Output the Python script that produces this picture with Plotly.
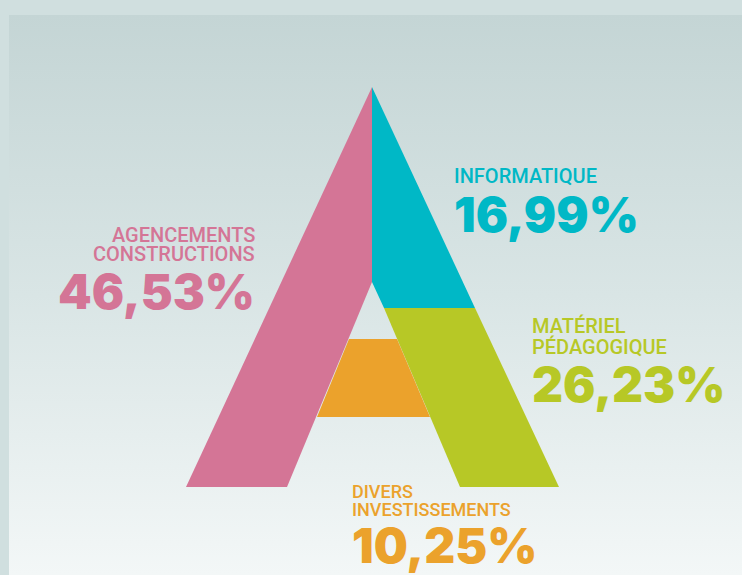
""" Budget split shown as a coloured letter A """
import plotly.graph_objects as go

# Data
label_lines = [['AGENCEMENTS', 'CONSTRUCTIONS'], ['INFORMATIQUE'],
               ['MATÉRIEL', 'PÉDAGOGIQUE'], ['DIVERS', 'INVESTISSEMENTS']]
shares = [46.53, 16.99, 26.23, 10.25]
colors = ['#d47596', '#00b8c6', '#b7c826', '#eba22c']

W, H = 742, 575

# Geometry of the letter (pixel space, y downwards)
apex = (372, 87)
base_y = 487
pieces = [
    # pink left leg
    ([apex[0], 186, 287, 372, apex[0]], [apex[1], base_y, base_y, 282, apex[1]]),
    # teal upper right
    ([apex[0], 475, 384, 372, apex[0]], [apex[1], 308, 308, 282, apex[1]]),
    # green lower right
    ([384, 475, 559, 460, 384], [308, 308, base_y, base_y, 308]),
    # orange bar
    ([349, 397, 430, 317, 349], [339, 339, 417, 417, 339]),
]

# Label placement: x, y of first label line, line step, y of value, anchor, label size
label_pos = [
    (257, 235, 19, 291, 'right', 20),
    (452, 176, 19, 214, 'left', 20),
    (530, 326, 21, 384, 'left', 20),
    (350, 491, 18, 545, 'left', 18),
]

fig = go.Figure()

# background panel with vertical gradient
fig.add_trace(go.Scatter(
    x=[9, W, W, 9, 9], y=[15, 15, H, H, 15],
    fill='toself', mode='lines', line={'width': 0},
    fillgradient={'type': 'vertical',
                  'colorscale': [[0, '#f3f7f7'], [0.5, '#d9e5e5'], [1, '#c4d5d5']]},
    hoverinfo='skip'))

for (xs, ys), col in zip(pieces, colors):
    fig.add_trace(go.Scatter(x=xs, y=ys, fill='toself', mode='lines',
                             line={'width': 0, 'color': col}, fillcolor=col,
                             hoverinfo='skip'))

for lines, val, col, (px, ly, step, vy, anc, fs) in zip(label_lines, shares, colors, label_pos):
    for i, line in enumerate(lines):
        fig.add_annotation(x=px, y=ly + i * step, text=line, showarrow=False,
                           xanchor=anc, yanchor='middle', align=anc,
                           font={'family': 'Roboto', 'size': fs, 'color': col, 'weight': 500})
    txt = f'{val:.2f}%'.replace('.', ',')
    fig.add_annotation(x=px, y=vy, text=txt, showarrow=False,
                       xanchor=anc, yanchor='middle', align=anc,
                       font={'family': 'Inter', 'size': 48, 'color': col, 'weight': 900})

fig.update_layout(
    width=W, height=H, margin={'l': 0, 'r': 0, 't': 0, 'b': 0},
    paper_bgcolor='#d0dfdf', plot_bgcolor='#d0dfdf', showlegend=False,
    xaxis={'range': [0, W], 'visible': False, 'fixedrange': True},
    yaxis={'range': [H, 0], 'visible': False, 'fixedrange': True})

fig.write_html('out.html', config={'displayModeBar': False},
               post_script="document.body.style.margin='0';")
